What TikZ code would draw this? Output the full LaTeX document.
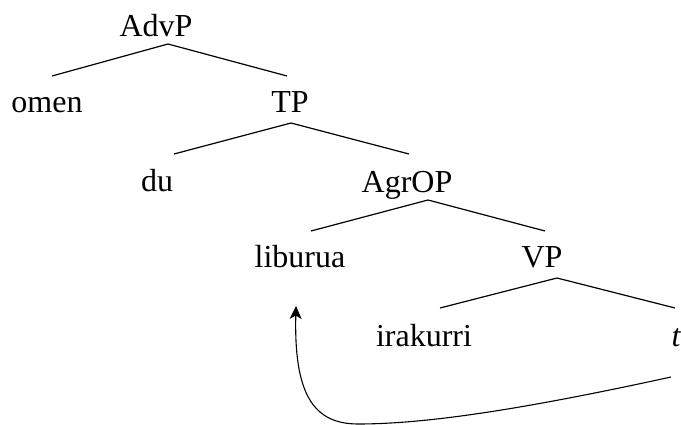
\documentclass[tikz,border=0pt]{standalone}
\usepackage{fontspec}
\setmainfont{Liberation Serif}
\usetikzlibrary{arrows.meta}
\begin{document}
\begin{tikzpicture}[x=1pt,y=-1pt,
  word/.style={anchor=base,inner sep=0pt,font=\fontsize{32}{38}\selectfont},
  branch/.style={line width=1.2pt},
  move/.style={line width=1.1pt,-{Stealth[length=13pt,width=12pt,inset=3.5pt]}}]
\useasboundingbox (0,0) rectangle (681,425);

% labels
\node[word] (advp) at (156,37) {AdvP};
\node[word] (omen) at (47,113) {omen};
\node[word] (tp) at (290,113) {TP};
\node[word] (du) at (157,192) {du};
\node[word] (agrop) at (407,193) {AgrOP};
\node[word] (liburua) at (300,268) {liburua};
\node[word] (vp) at (542,268) {VP};
\node[word] (irakurri) at (424,346) {irakurri};
\node[word] (trace) at (676,346) {\itshape t};

% branching points and branch ends
\coordinate (advp-v) at (168,44);
\coordinate (advp-l) at (52,76);
\coordinate (advp-r) at (287,76);
\coordinate (tp-v) at (291,123);
\coordinate (tp-l) at (174,154);
\coordinate (tp-r) at (409,154);
\coordinate (agrop-v) at (428,200);
\coordinate (agrop-l) at (311,231);
\coordinate (agrop-r) at (545,231);
\coordinate (vp-v) at (557,278);
\coordinate (vp-l) at (440,308);
\coordinate (vp-r) at (675,308);

\draw[branch] (advp-l) -- (advp-v) -- (advp-r);
\draw[branch] (tp-l) -- (tp-v) -- (tp-r);
\draw[branch] (agrop-l) -- (agrop-v) -- (agrop-r);
\draw[branch] (vp-l) -- (vp-v) -- (vp-r);

% movement of the object from the trace
\coordinate (move-start) at (671,377);
\coordinate (move-low) at (358,424);
\coordinate (move-end) at (296,306);
\draw[move] (move-start) .. controls (520,410) and (425,424) .. (move-low)
  .. controls (312,424) and (294,392) .. (move-end);
\end{tikzpicture}
\end{document}
